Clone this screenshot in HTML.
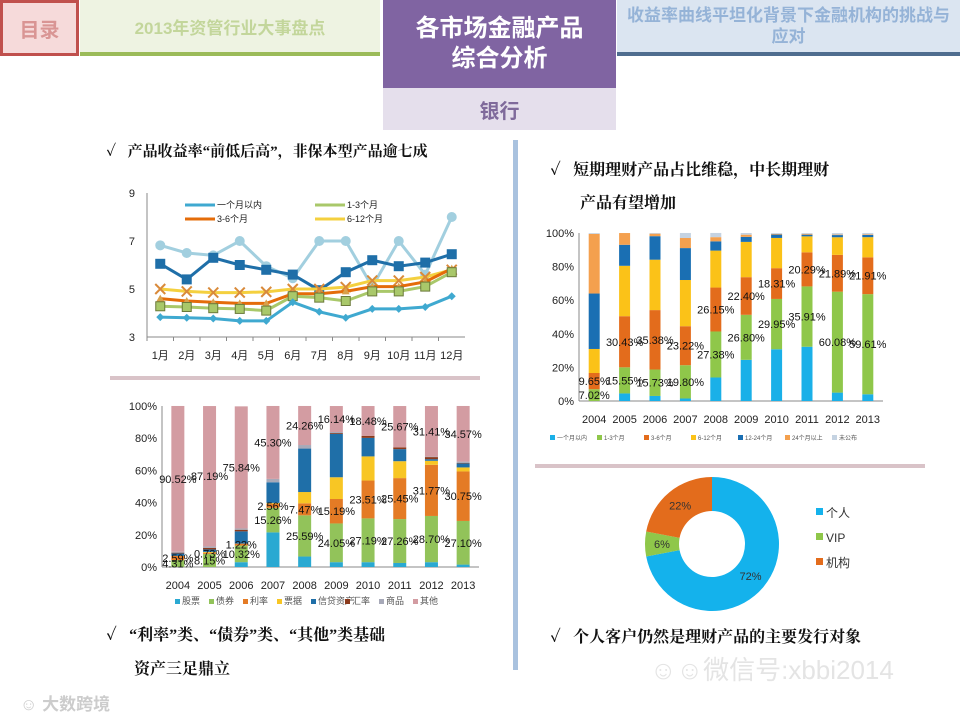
<!DOCTYPE html>
<html><head><meta charset="utf-8">
<style>
body{margin:0;width:960px;height:720px;overflow:hidden;background:#fff;font-family:"Liberation Sans","Noto Sans CJK SC",sans-serif;position:relative}
.hd{position:absolute;box-sizing:border-box;display:flex;align-items:center;justify-content:center;text-align:center;font-weight:bold;font-family:"Liberation Sans","Noto Sans CJK SC",sans-serif}
.tx{position:absolute;font-family:"Liberation Serif","Noto Serif CJK SC",serif;font-weight:bold;font-size:16px;color:#111;white-space:nowrap}
svg{position:absolute;left:0;top:0}
</style></head><body>
<div class="hd" style="left:0;top:0;width:79px;height:56px;background:#f6dada;border:3px solid #c0504d;color:#d99594;font-size:20px">目录</div>
<div class="hd" style="left:80px;top:0;width:300px;height:56px;background:#eef3e2;border-bottom:4px solid #9bbb59;color:#c3d69b;font-size:17px">2013年资管行业大事盘点</div>
<div class="hd" style="left:383px;top:0;width:233px;height:88px;background:#8064a2;color:#fff;font-size:24px;line-height:30px">各市场金融产品<br>综合分析</div>
<div class="hd" style="left:383px;top:88px;width:233px;height:42px;background:#e5dfec;color:#7f6a9b;font-size:20px">银行</div>
<div class="hd" style="left:617px;top:0;width:343px;height:56px;background:#dbe5f1;border-bottom:4px solid #4f6d8f;color:#95b3d7;font-size:17px;line-height:21px;padding:0 6px">收益率曲线平坦化背景下金融机构的挑战与应对</div>

<div class="tx" style="left:106px;top:140px;font-size:15px">✓&nbsp;&nbsp; 产品收益率“前低后高”，非保本型产品逾七成</div>
<div class="tx" style="left:550px;top:157px">✓&nbsp;&nbsp; 短期理财产品占比维稳，中长期理财</div>
<div class="tx" style="left:580px;top:190px">产品有望增加</div>
<div class="tx" style="left:106px;top:622px">✓&nbsp;&nbsp; “利率”类、“债券”类、“其他”类基础</div>
<div class="tx" style="left:134px;top:656px">资产三足鼎立</div>
<div class="tx" style="left:550px;top:624px">✓&nbsp;&nbsp; 个人客户仍然是理财产品的主要发行对象</div>
<div class="tx" style="left:20px;top:690px;color:#ccc;font-size:17px;font-family:'Liberation Sans','Noto Sans CJK SC',sans-serif">☺ 大数跨境</div>
<div class="tx" style="left:650px;top:650px;color:#e4e4e4;font-size:26px;font-weight:normal;font-family:'Liberation Sans','Noto Sans CJK SC',sans-serif">☺☺微信号:xbbi2014</div>

<svg id="s" width="960" height="720"></svg>
<script>
const months=['1月','2月','3月','4月','5月','6月','7月','8月','9月','10月','11月','12月'];
const lineNames=['一个月以内','1-3个月','3-6个月','6-12个月','',''];
const s1=[3.83,3.8,3.77,3.67,3.67,4.45,4.05,3.8,4.17,4.17,4.25,4.7];
const s2=[4.28,4.25,4.2,4.17,4.1,4.7,4.64,4.5,4.9,4.9,5.1,5.7];
const s3=[4.6,4.5,4.45,4.4,4.4,4.8,4.8,4.9,5.1,5.1,5.3,5.85];
const s4=[5.0,4.9,4.85,4.85,4.88,5.0,5.0,5.08,5.35,5.35,5.5,5.8];
const s5=[6.05,5.4,6.3,6.0,5.8,5.6,4.95,5.7,6.2,5.95,6.1,6.45];
const s6=[6.82,6.5,6.4,7.0,5.95,5.45,7.0,7.0,5.1,7.0,5.6,8.0];
const lineTicks=[3,5,7,9];

const years=['2004','2005','2006','2007','2008','2009','2010','2011','2012','2013'];
const termNames=['一个月以内','1-3个月','3-6个月','6-12个月','12-24个月','24个月以上','未公布'];
const t1=[0,4.5,3,1.5,14,24.5,30.8,32.3,5,4];
const t2=[7.02,15.55,15.73,19.80,27.38,26.80,29.95,35.91,60.08,59.61];
const t3=[9.65,30.43,35.38,23.22,26.15,22.40,18.31,20.29,21.89,21.91];
const t4=[14.3,30,30,27.5,22,21,18,9.5,10.5,12];
const t5=[33,12.5,14,19,5.5,3,2,1,1.3,1.3];
const t6=[35.5,7,1.5,6,2.5,1.3,0.4,0.5,0.3,0.4];
const t7=[0.5,0,0.4,3,2.5,1,0.5,0.5,0.9,0.8];
const pctTicks=['0%','20%','40%','60%','80%','100%'];

const assetNames=['股票','债券','利率','票据','信贷资产','汇率','商品','其他'];
const a1=[0,0,3,21.5,6.5,3,3,2.5,3,1.5];
const a2=[4.31,8.15,10.32,15.26,25.59,24.05,27.19,27.26,28.70,27.10];
const a3=[2.59,0.73,1.22,2.56,7.47,15.19,23.51,25.45,31.77,30.75];
const a4=[0,0.5,0,0.5,7,13.5,15,10.5,2.5,2.5];
const a5=[1.5,1.5,7.6,12.8,27,27,11.5,7.5,1,2.5];
const a6=[0.5,1,1,0,0,0.5,1.3,1.1,1.3,0.3];
const a7=[0.6,0.9,0.8,2.1,2.2,0.6,0,0,0.3,0.8];
const a8=[90.52,87.19,75.84,45.30,24.26,16.14,18.48,25.67,31.41,34.57];

const clientNames=['个人','VIP','机构'];
const clientVals=[72,6,22];

const S=document.getElementById('s');const NS='http://www.w3.org/2000/svg';
function el(t,a,txt){const e=document.createElementNS(NS,t);for(const k in a)e.setAttribute(k,a[k]);if(txt!==undefined)e.textContent=txt;S.appendChild(e);return e;}

// decorations
let e;
e=el('rect',{x:513,y:140,width:5,height:530,fill:'#a9c2df'});


e=el('rect',{x:110,y:376,width:370,height:4,fill:'#d9c3c8'});


e=el('rect',{x:535,y:464,width:390,height:4,fill:'#d9c3c8'});



// LINE CHART
const lx0=147,lx1=465,ly0=337,ly1=193;
const lX=i=>lx0+(lx1-lx0)/12*(i+0.5);
const lY=v=>ly0-(v-3)/6*(ly0-ly1);
e=el('line',{x1:lx0,y1:ly1,x2:lx0,y2:ly0,stroke:'#888'});


e=el('line',{x1:lx0,y1:ly0,x2:lx1,y2:ly0,stroke:'#888'});


lineTicks.forEach(v=>{e=el('text',{x:lx0-12,y:lY(v)+4,'font-size':11,'text-anchor':'end',fill:'#222'},v);

});
months.forEach((m,i)=>{e=el('text',{x:lX(i),y:359,'font-size':11,'text-anchor':'middle',fill:'#222'},m);


el('line',{x1:lx0+(lx1-lx0)/12*i,y1:ly0,x2:lx0+(lx1-lx0)/12*i,y2:ly0+4,stroke:'#888'});});
const lineSeries=[[s6,'#a2cfdf','circle'],[s5,'#1f6fa8','square'],[s4,'#f4d03f','x'],[s3,'#e46c0a','tri'],[s2,'#a9c86a','square'],[s1,'#3fa9d0','diamond']];
lineSeries.forEach(([d,c,m],k)=>{
  e=el('polyline',{points:d.map((v,i)=>lX(i)+','+lY(v)).join(' '),fill:'none',stroke:c,'stroke-width':3});
  
  
  d.forEach((v,i)=>{const x=lX(i),y=lY(v);
    if(m=='circle')e=el('circle',{cx:x,cy:y,r:5,fill:c});
    else if(m=='square')e=el('rect',{x:x-4.5,y:y-4.5,width:9,height:9,fill:c,stroke:k==4?'#6b7a3a':c});
    else if(m=='diamond')e=el('polygon',{points:`${x},${y-4} ${x+4},${y} ${x},${y+4} ${x-4},${y}`,fill:c});
    else if(m=='tri')e=el('polygon',{points:`${x},${y-4} ${x+4},${y+3} ${x-4},${y+3}`,fill:'#d9a04a'});
    else e=el('path',{d:`M${x-5},${y-5}L${x+5},${y+5}M${x+5},${y-5}L${x-5},${y+5}`,stroke:'#d98a3a','stroke-width':2});
    
    
  });
});
[[185,205,'#3fa9d0',0],[315,205,'#a9c86a',1],[185,219,'#e46c0a',2],[315,219,'#f4d03f',3]].forEach(([x,y,c,k])=>{
  e=el('line',{x1:x,y1:y,x2:x+30,y2:y,stroke:c,'stroke-width':3});
  
  
  e=el('text',{x:x+32,y:y+3,'font-size':9,fill:'#222'},lineNames[k]);
  
  
});

// STACKED BAR helper
function stacked(pre,x0,x1,y0,y1,bw,series,colors,labelIdx,legendY,legendNames,legendFont,legendX,legendStep){
  const band=(x1-x0)/years.length;
  const X=i=>x0+band*(i+0.5);
  const Y=v=>y0-v/100*(y0-y1);
  e=el('line',{x1:x0,y1:y1,x2:x0,y2:y0,stroke:'#888'});
  
  
  e=el('line',{x1:x0,y1:y0,x2:x1,y2:y0,stroke:'#888'});
  
  
  pctTicks.forEach((t,i)=>{e=el('text',{x:x0-5,y:Y(i*20)+4,'font-size':11,'text-anchor':'end',fill:'#222'},t);
  
  });
  years.forEach((yr,i)=>{
    e=el('text',{x:X(i),y:y0+22,'font-size':11,'text-anchor':'middle',fill:'#222'},yr);
    
    
    let acc=0;
    series.forEach((d,k)=>{
      e=el('rect',{x:X(i)-bw/2,y:Y(acc+d[i]),width:bw,height:Math.max(0,Y(acc)-Y(acc+d[i])),fill:colors[k]});
      
      
      acc+=d[i];
    });
  });
  years.forEach((yr,i)=>{
    let acc=0;
    series.forEach((d,k)=>{
      if(labelIdx.includes(k)){
        e=el('text',{x:X(i),y:Y(acc+d[i]/2)+4,'font-size':11,'text-anchor':'middle',fill:'#111'},d[i].toFixed(2)+'%');
        
        
      }
      acc+=d[i];
    });
  });
  legendNames.forEach((n,k)=>{
    const lx=legendX+legendStep*k;
    e=el('rect',{x:lx,y:legendY-5,width:5,height:5,fill:colors[k]});
    
    
    e=el('text',{x:lx+7,y:legendY,'font-size':legendFont,fill:'#555'},n);
    
    
  });
}
stacked('term',579,883,401,233,11,[t1,t2,t3,t4,t5,t6,t7],
 ['#1ab0e8','#8fc74a','#e36c1c','#fbc218','#1a6fb3','#f4a04e','#c5d3e2'],[1,2],440,termNames,6,550,47);
stacked('asset',162,479,567,406,13,[a1,a2,a3,a4,a5,a6,a7,a8],
 ['#2aa9d2','#92c35a','#e47b25','#f8c624','#1f6fa8','#8b3a1c','#a7a9b8','#d39ca2'],[1,2,7],604,assetNames,9,175,34);

// DONUT
const cx=712,cy=544,R=67,r=33;
const dcol=['#14b2ec','#8fc74a','#e36c1c'];
const tot=clientVals.reduce((a,b)=>a+b,0);
let ang=-Math.PI/2;
clientVals.forEach((v,k)=>{
  const a2=ang+v/tot*2*Math.PI;const lg=(a2-ang)>Math.PI?1:0;
  const p=(rr,a)=>(cx+rr*Math.cos(a))+','+(cy+rr*Math.sin(a));
  e=el('path',{d:`M${p(R,ang)}A${R},${R} 0 ${lg} 1 ${p(R,a2)}L${p(r,a2)}A${r},${r} 0 ${lg} 0 ${p(r,ang)}Z`,fill:dcol[k]});
  
  
  const m=(ang+a2)/2,lr=(R+r)/2;
  e=el('text',{x:cx+lr*Math.cos(m),y:cy+lr*Math.sin(m)+4,'font-size':11,'text-anchor':'middle',fill:'#333'},v+'%');
  
  
  e=el('rect',{x:816,y:508+k*25,width:7,height:7,fill:dcol[k]});
  
  
  e=el('text',{x:826,y:517+k*25,'font-size':12,fill:'#333'},clientNames[k]);
  
  
  ang=a2;
});
</script>
</body></html>
